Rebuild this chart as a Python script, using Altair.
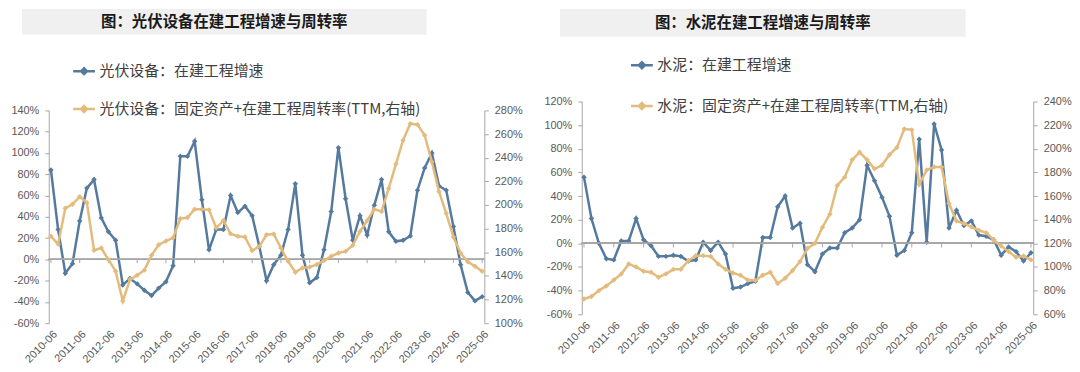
import altair as alt
import pandas as pd

# ---------------- data ----------------
quarters = [f"{y}-{m}" for y in range(2010, 2026) for m in ("03", "06", "09", "12")][1:62]
year_ticks = [f"{y}-06" for y in range(2010, 2026)]

pv_growth = [84, 28, -13, -4, 36, 67, 75, 39, 26, 18,
             -24, -18, -23, -29, -34, -27, -21, -6, 97, 97,
             111, 56, 9, 28, 28, 60, 44, 50, 41, 12,
             -20, -5, 4, 28, 71, 4, -22, -17, 9, 45,
             105, 57, 18, 41, 23, 51, 75, 26, 17, 18,
             22, 65, 86, 100, 69, 65, 31, -5, -31, -39,
             -35]
pv_turnover = [173.5, 167, 197.3, 200.6, 207, 202, 161.7, 163.6, 153.8, 144,
               118.8, 137, 140.6, 144.9, 157.5, 166.4, 169.5, 172.3, 188.3, 189.4,
               196.4, 196.4, 195.9, 180.5, 186.9, 175.7, 173.5, 172.9, 161.4, 165,
               174.8, 175.4, 163.6, 152.4, 143.2, 146.8, 147.6, 149.6, 153, 156.6,
               159.4, 160.8, 165.9, 177.7, 186.9, 196.4, 194.5, 214, 234.6, 254.8,
               268.8, 268, 259, 236.5, 211.3, 193, 172.9, 159.4, 151.9, 148.2,
               144]
cem_growth = [56, 21, 0, -13, -14, 2, 2, 21, 3, -2,
              -11, -11, -10, -11, -15, -14, 1, -6, 1, -9,
              -38, -37, -34, -32, 5, 5, 31, 40, 13, 17,
              -18, -24, -9, -4, -4, 9, 13, 20, 66, 53,
              39, 23, -10, -6, 9, 88, 1, 101, 79, 13,
              28, 15, 19, 7, 6, 3, -10, -3, -7, -15,
              -8]
cem_turnover = [73, 75, 80, 84, 89, 94, 102.6, 100, 96.4, 95.6,
                91.4, 94.2, 98, 98, 105.4, 109.6, 109.6, 109, 102.6, 98,
                95, 93, 89, 88.6, 93, 95.6, 86, 90.5, 97, 104.6,
                115.8, 120, 133.5, 144.7, 169, 176, 190.7, 197, 190.7, 183,
                186, 195, 201, 216.8, 216, 170, 182, 184.5, 184.5, 153.7,
                139, 136.8, 134, 131, 129, 122.8, 117.8, 113, 108.2, 109.3,
                106]

pv_names = ["光伏设备：在建工程增速", "光伏设备：固定资产+在建工程周转率(TTM,右轴)"]
cem_names = ["水泥：在建工程增速", "水泥：固定资产+在建工程周转率(TTM,右轴)"]
titles = ["图：光伏设备在建工程增速与周转率", "图：水泥在建工程增速与周转率"]

BLUE = "#557a9e"
GOLD = "#e3bb7c"
GREY = "#a6a6a6"
LABEL = "#595959"
CJK = "Noto Sans CJK SC"
LAT = "Liberation Sans"

LEGEND_PATH = "M-1,0L1,0M-0.27,0L0,-0.27L0.27,0L0,0.27Z"


def panel(names, left_vals, right_vals, left_dom, left_step, right_dom, right_step,
          title, width, height, top, rect_x, rect_y, legend_x, legend_y, row_pad):
    df_l = pd.DataFrame({"q": quarters, "v": left_vals, "s": names[0]})
    df_r = pd.DataFrame({"q": quarters, "v": right_vals, "s": names[1]})
    df_ticks = pd.DataFrame({"q": year_ticks})
    df_title = pd.DataFrame({"t": [title]})

    x_enc = alt.X("q:O", sort=quarters,
                  scale=alt.Scale(type="point", padding=0.3),
                  axis=alt.Axis(values=year_ticks, labelAngle=-45, domain=False, ticks=False,
                                title=None, labelFont=LAT, labelFontSize=11,
                                labelColor=LABEL, labelPadding=5))
    color_enc = alt.Color("s:N", scale=alt.Scale(domain=names, range=[BLUE, GOLD]),
                          legend=alt.Legend(orient="none", legendX=legend_x, legendY=legend_y,
                                            direction="vertical", title=None,
                                            symbolType=LEGEND_PATH, symbolSize=480,
                                            symbolStrokeWidth=2.5, labelFont=CJK,
                                            labelFontSize=15, labelColor="#404040",
                                            rowPadding=row_pad, labelOffset=3, padding=0,
                                            labelLimit=0))
    lscale = alt.Scale(domain=left_dom, nice=False, zero=False, range=[height, top])
    rscale = alt.Scale(domain=right_dom, nice=False, zero=False, range=[height, top])
    lvals = list(range(left_dom[0], left_dom[1] + 1, left_step))
    rvals = list(range(right_dom[0], right_dom[1] + 1, right_step))

    def yaxis(vals, orient):
        return alt.Axis(orient=orient, values=vals, labelExpr="datum.value + '%'", grid=False,
                        domainColor=GREY, tickColor=GREY, tickSize=4, title=None,
                        labelFont=LAT, labelFontSize=11, labelColor=LABEL,
                        labelPadding=6)

    laxis = yaxis(lvals, "left")
    raxis = yaxis(rvals, "right")

    blue = alt.Chart(df_l).mark_line(
        strokeWidth=2.5,
        point=alt.OverlayMarkDef(shape="diamond", size=30, filled=True)).encode(
        x=x_enc,
        y=alt.Y("v:Q", scale=lscale, axis=laxis),
        color=color_enc)
    zero = alt.Chart(df_ticks).mark_rule(color=GREY, strokeWidth=1).encode(
        y=alt.YDatum(0, scale=lscale, axis=laxis))
    ticks = alt.Chart(df_ticks).mark_rule(color=GREY, strokeWidth=1).encode(
        x=x_enc, y=alt.YDatum(0, scale=lscale, axis=laxis), y2=alt.Y2Datum(-3.5))
    rect = alt.Chart(df_title).mark_rect(color="#f0f0f0").encode(
        x=alt.value(rect_x[0]), x2=alt.value(rect_x[1]),
        y=alt.value(rect_y[0]), y2=alt.value(rect_y[1]))
    text = alt.Chart(df_title).mark_text(font=CJK, fontSize=15.5, fontWeight="bold",
                                         color="#1a1a1a", align="center",
                                         baseline="middle").encode(
        x=alt.value((rect_x[0] + rect_x[1]) / 2),
        y=alt.value((rect_y[0] + rect_y[1]) / 2),
        text="t:N")
    left_layer = alt.layer(blue, rect, text, zero, ticks)

    gold = alt.Chart(df_r).mark_line(
        strokeWidth=2.5,
        point=alt.OverlayMarkDef(shape="diamond", size=30, filled=True)).encode(
        x=x_enc,
        y=alt.Y("v:Q", scale=rscale, axis=raxis),
        color=color_enc)

    return alt.layer(left_layer, gold).resolve_scale(y="independent").properties(
        width=width, height=height)


# left panel plot: top 9px below the shared origin, 214px tall
left = panel(pv_names, pv_growth, pv_turnover, [-60, 140], 20, [100, 280], 20,
             titles[0], 438, 223, 9, (-27, 380), (-93, -67), 23, -43, 17)
right = panel(cem_names, cem_growth, cem_turnover, [-60, 120], 20, [60, 240], 20,
              titles[1], 454, 214, 0, (-22, 386), (-93, -65), 48, -49, 20)

chart = alt.hconcat(left, right, spacing=20).resolve_scale(
    color="independent").resolve_legend(color="independent").configure_view(
    stroke=None).properties(padding={"left": 2, "top": 0, "right": 0, "bottom": 0})

chart.save("out.html", embed_options={"renderer": "svg", "actions": False})
